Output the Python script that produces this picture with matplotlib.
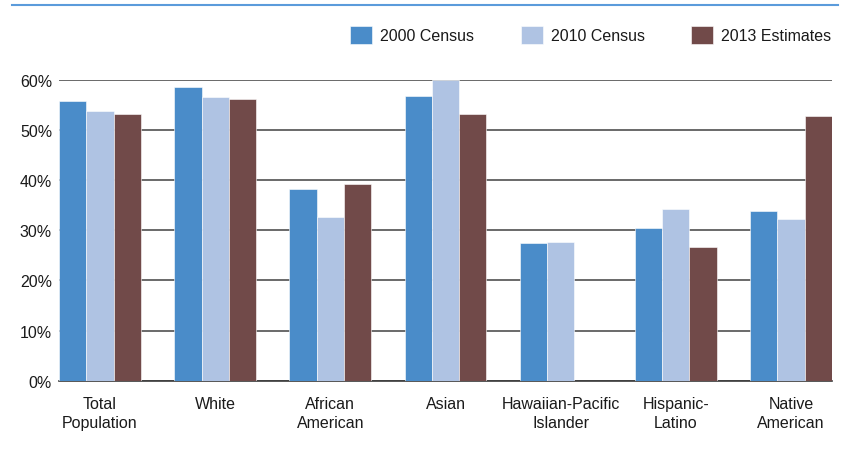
import numpy as np
import matplotlib
matplotlib.use("Agg")
from matplotlib import pyplot as plt
from matplotlib.lines import Line2D
from matplotlib.ticker import PercentFormatter

plt.rcParams['font.family'] = ['Liberation Sans', 'DejaVu Sans']

groups = ["Total\nPopulation", "White", "African\nAmerican", "Asian",
          "Hawaiian-Pacific\nIslander", "Hispanic-\nLatino", "Native\nAmerican"]
census_2000 = [55.9, 58.7, 38.2, 56.9, 27.5, 30.5, 33.9]
census_2010 = [53.9, 56.7, 32.6, 60.0, 27.7, 34.3, 32.3]
estimates_2013 = [53.3, 56.2, 39.2, 53.3, np.nan, 26.7, 52.8]
series_names = ["2000 Census", "2010 Census", "2013 Estimates"]
colors = ["#4a8cc9", "#afc3e3", "#714a49"]

fig = plt.figure(figsize=(8.41, 4.52), dpi=100)
ax = fig.add_axes([59/841, 1-381.7/452, (832-59)/841, (381.7-81)/452])

x = np.arange(len(groups))
w = 0.237
for i, (vals, name) in enumerate(zip([census_2000, census_2010, estimates_2013], series_names)):
    ax.bar(x + (i-1)*w, vals, width=w, color=colors[i], label=name,
           edgecolor="white", linewidth=0.4, zorder=3)

ax.set_xlim(-0.356, 6.356)
ax.set_ylim(0, 60)
ax.set_yticks(range(0, 61, 10))
ax.yaxis.set_major_formatter(PercentFormatter(decimals=0))
ax.set_xticks(x)
ax.set_xticklabels(groups, linespacing=1.35)
ax.tick_params(axis='both', length=0, labelsize=11.5, colors="#1a1a1a")
ax.tick_params(axis='y', pad=5)
ax.tick_params(axis='x', pad=11)
ax.grid(axis='y', color="#505050", linewidth=1.2, zorder=0)
ax.set_axisbelow(True)
for s in ["left", "right", "top"]:
    ax.spines[s].set_visible(False)
ax.spines["bottom"].set_color("#3a3a3a")
ax.spines["bottom"].set_linewidth(1.2)

leg = fig.legend(loc="center right", bbox_to_anchor=(831/841, 1-36/452), ncol=3,
                 frameon=False, fontsize=11.5, handlelength=1.375, handleheight=1.44,
                 handletextpad=0.5, columnspacing=2.9, borderaxespad=0, borderpad=0)
for t in leg.get_texts():
    t.set_color("#1a1a1a")

fig.add_artist(Line2D([12/841, 838/841], [1-6/452, 1-6/452], color="#5b9bdb",
                      linewidth=1.5, transform=fig.transFigure))

fig.savefig("out.png", dpi=100)
